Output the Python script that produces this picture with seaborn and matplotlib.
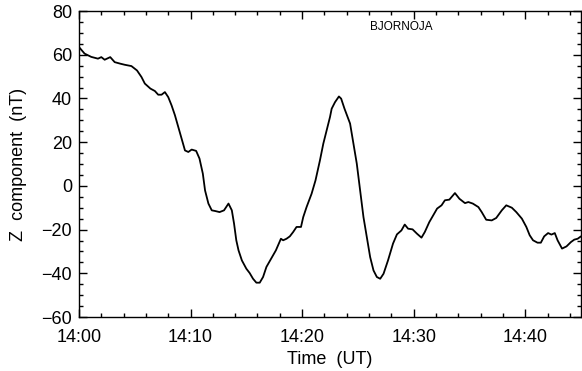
import matplotlib
matplotlib.use("Agg")
import matplotlib.pyplot as plt
from matplotlib.ticker import MultipleLocator, FuncFormatter
import numpy as np
import pandas as pd
import seaborn as sns

# Bjornoja magnetometer, Z component, minutes after 14:00 UT
minutes = [
    0.0, 0.5, 1.1, 1.7, 2.0, 2.3, 2.8, 3.2, 3.7, 4.1, 4.7, 5.2, 5.6, 5.9,
    6.4, 6.8, 7.1, 7.4, 7.7, 8.0, 8.3, 8.6, 8.9, 9.2, 9.5, 9.8, 10.1, 10.5,
    10.8, 11.1, 11.3, 11.6, 11.9, 12.2, 12.6, 13.0, 13.4, 13.7, 13.9, 14.1,
    14.3, 14.6, 15.0, 15.3, 15.6, 15.9, 16.2, 16.5, 16.8, 17.3, 17.65, 17.85,
    18.1, 18.3, 18.6, 18.9, 19.2, 19.5, 19.9, 20.1, 20.4, 20.85, 21.2, 21.6,
    21.9, 22.2, 22.5, 22.65, 22.95, 23.3, 23.5, 23.8, 24.3, 24.6, 24.9, 25.2,
    25.5, 25.8, 26.1, 26.4, 26.7, 27.0, 27.3, 27.7, 28.15, 28.5, 28.9, 29.2,
    29.5, 29.9, 30.3, 30.7, 31.0, 31.4, 31.75, 32.1, 32.5, 32.8, 33.2, 33.7,
    34.1, 34.6, 34.9, 35.3, 35.8, 36.1, 36.5, 37.0, 37.4, 37.9, 38.3, 38.8,
    39.2, 39.7, 40.1, 40.4, 40.7, 41.1, 41.4, 41.7, 42.05, 42.35, 42.65,
    42.9, 43.3, 43.7, 44.1, 44.4, 44.7, 45.0,
]
z_nt = [
    63.5, 60.5, 59.0, 58.2, 58.9, 57.7, 58.9, 56.6, 55.9, 55.4, 54.8, 52.8,
    49.8, 46.8, 44.5, 43.4, 41.7, 41.7, 42.9, 40.6, 36.8, 32.3, 26.9, 21.6,
    16.2, 15.5, 16.6, 16.0, 12.5, 5.6, -2.1, -8.1, -11.2, -11.5, -12.0, -11.2,
    -8.1, -11.2, -17.3, -24.9, -29.5, -34.1, -37.9, -39.9, -42.5, -44.3,
    -44.3, -41.7, -37.1, -32.6, -29.5, -27.2, -24.2, -24.9, -24.2, -23.1,
    -21.1, -18.8, -18.8, -14.3, -9.7, -3.6, 2.5, 11.7, 19.3, 25.4, 31.5, 35.3,
    38.3, 40.9, 39.9, 35.3, 28.5, 19.3, 10.2, -2.1, -14.3, -23.4, -32.6,
    -38.7, -41.7, -42.5, -40.2, -34.1, -26.4, -22.2, -20.4, -17.7, -19.6,
    -19.9, -21.9, -23.7, -21.1, -16.6, -13.5, -10.4, -8.9, -6.6, -6.3, -3.3,
    -5.9, -7.9, -7.4, -8.1, -9.7, -12.0, -15.5, -15.8, -14.7, -11.2, -8.9,
    -10.0, -12.0, -15.0, -18.8, -22.6, -24.9, -26.0, -26.0, -23.1, -21.6,
    -22.3, -21.6, -24.9, -28.7, -27.7, -25.7, -24.6, -24.2, -23.1,
]
station = "BJORNOJA"

df = pd.DataFrame({"minutes": minutes, "z": z_nt})

sns.set_style("ticks")
plt.rcParams["font.family"] = ["Liberation Sans", "DejaVu Sans"]
plt.rcParams["text.color"] = "black"
plt.rcParams["axes.labelcolor"] = "black"
plt.rcParams["xtick.color"] = "black"
plt.rcParams["ytick.color"] = "black"

fig = plt.figure(figsize=(5.82, 3.71), dpi=100)
ax = fig.add_axes([79 / 582, 1 - 317 / 371, 502 / 582, 306 / 371])

sns.lineplot(data=df, x="minutes", y="z", ax=ax, color="black",
             linewidth=1.3, sort=False, estimator=None)

ax.set_xlim(0, 45)
ax.set_ylim(-60, 80)

ax.xaxis.set_major_locator(MultipleLocator(10))
ax.xaxis.set_minor_locator(MultipleLocator(2))
ax.yaxis.set_major_locator(MultipleLocator(20))
ax.yaxis.set_minor_locator(MultipleLocator(5))
ax.xaxis.set_major_formatter(FuncFormatter(lambda v, p: f"14:{int(round(v)):02d}"))
ax.yaxis.set_major_formatter(FuncFormatter(lambda v, p: f"{int(round(v))}".replace("-", "\u2212")))

for side in ["top", "right", "bottom", "left"]:
    ax.spines[side].set_visible(True)
    ax.spines[side].set_linewidth(1.0)
    ax.spines[side].set_color("black")

ax.tick_params(which="both", direction="in", top=True, right=True,
               color="black", labelcolor="black", width=1.0)
ax.tick_params(which="major", length=6)
ax.tick_params(which="minor", length=3)
ax.tick_params(axis="x", which="major", labelsize=13, pad=9)
ax.tick_params(axis="y", which="major", labelsize=13, pad=5)

ax.set_xlabel("Time  (UT)", fontsize=13, labelpad=3, color="black")
ax.set_ylabel("Z  component  (nT)", fontsize=13, labelpad=10, color="black")

ax.text(370 / 582, 1 - 27 / 371, station, transform=fig.transFigure,
        fontsize=8.5, ha="left", va="center", color="black")

fig.savefig("out.png", dpi=100)
